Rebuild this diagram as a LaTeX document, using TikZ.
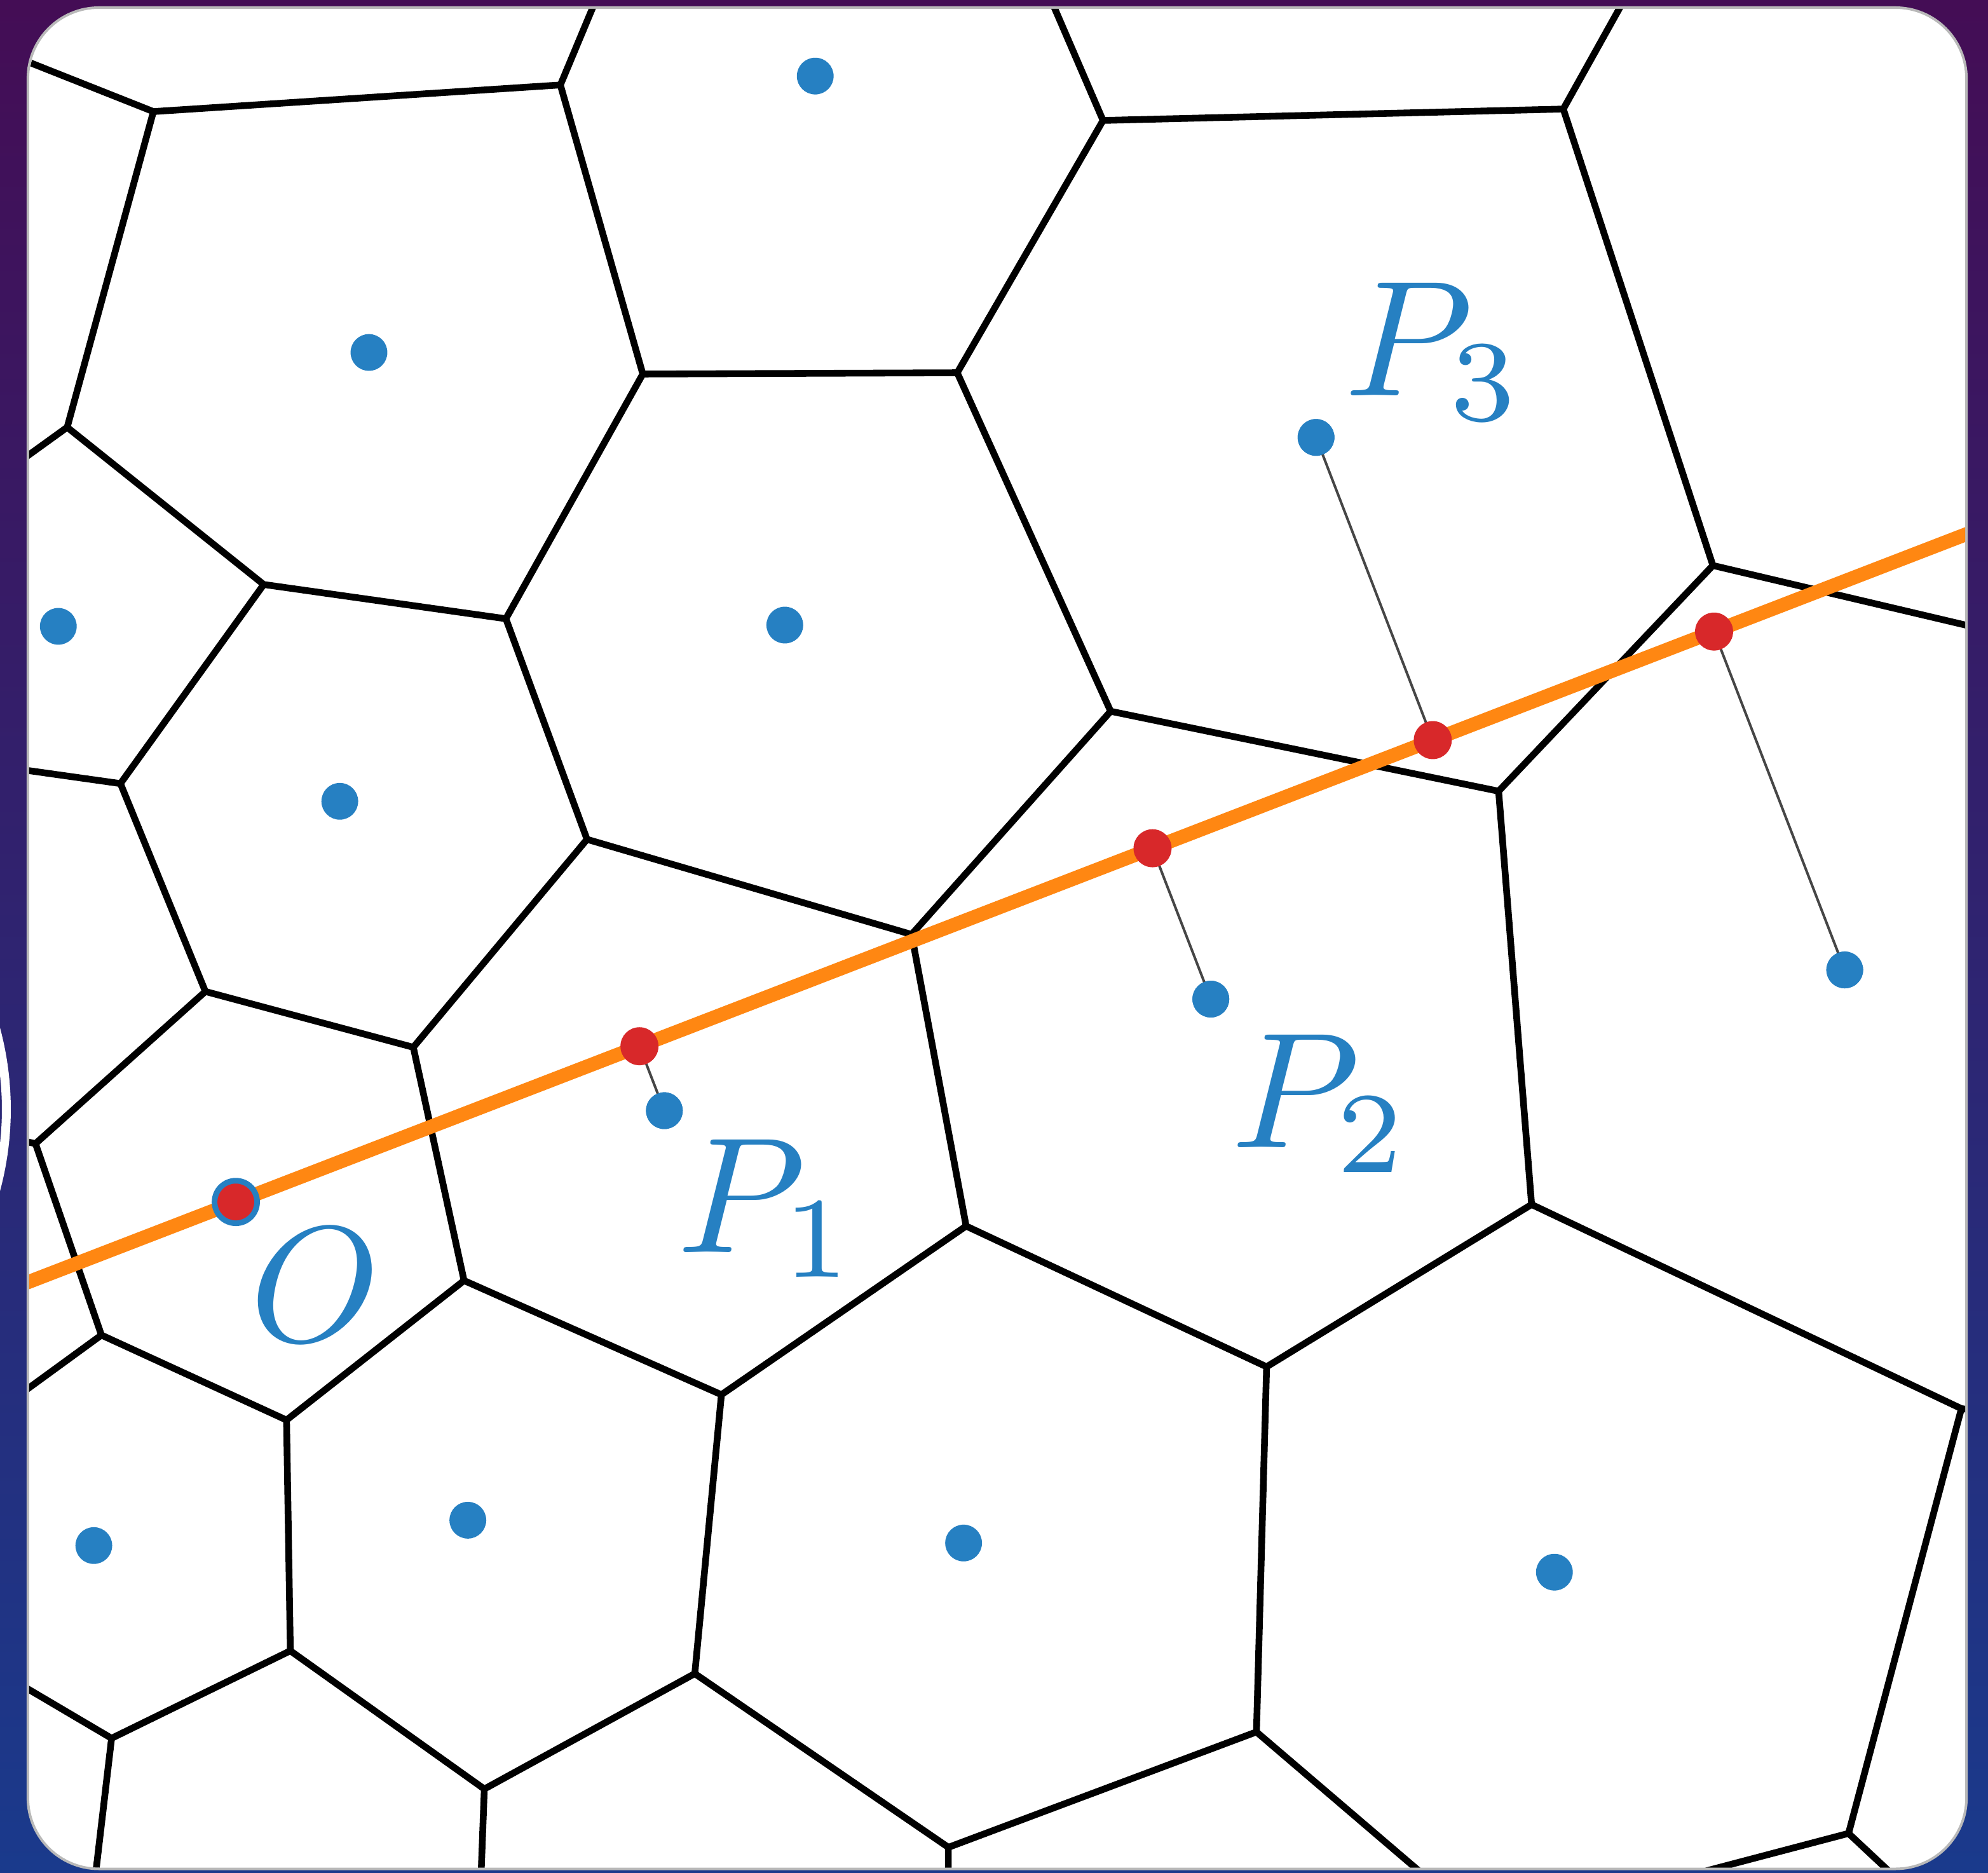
\documentclass[tikz,border=0pt]{standalone}
\usepackage{graphicx}
\usetikzlibrary{calc}
\definecolor{bgtop}{RGB}{68,13,85}
\definecolor{bgbot}{RGB}{26,58,140}
\definecolor{siteblue}{RGB}{38,128,194}
\definecolor{hitred}{RGB}{216,40,42}
\definecolor{rayorange}{RGB}{255,135,18}
\definecolor{linkgray}{RGB}{70,70,70}
\newcommand{\biglab}[1]{\scalebox{13}{$#1$}}
\begin{document}
\begin{tikzpicture}[x=1pt,y=-1pt,
  cell/.style={line width=5.3pt, line cap=round, line join=round},
  ray/.style={rayorange, line width=11pt},
  link/.style={linkgray, line width=2pt},
  site/.style={circle, fill=siteblue, inner sep=0pt, minimum size=29pt},
  bigsite/.style={circle, fill=siteblue, inner sep=0pt, minimum size=38pt},
  hit/.style={circle, fill=hitred, inner sep=0pt, minimum size=30pt},
  lab/.style={text=siteblue, inner sep=0pt, anchor=base west, font=\normalsize}]
\useasboundingbox (0,0) rectangle (1568,1477);
\shade[top color=bgtop, bottom color=bgbot] (0,0) rectangle (1568,1477);
\draw[white, line width=7pt] (-238,875) circle [radius=243pt];
\fill[white, rounded corners=56pt] (22,6) rectangle (1551,1474);
\draw[gray!55, line width=2pt, rounded corners=56pt] (22,6) rectangle (1551,1474);
% Voronoi vertices
\coordinate (A1) at (121,88);
\coordinate (A2) at (442,67);
\coordinate (A3) at (870,95);
\coordinate (A4) at (1233,86);
\coordinate (A5) at (507,295);
\coordinate (A6) at (755,294);
\coordinate (A7) at (53,337);
\coordinate (A8) at (208,461);
\coordinate (A9) at (399,488);
\coordinate (A10) at (95,618);
\coordinate (A11) at (463,662);
\coordinate (A12) at (876,561);
\coordinate (A13) at (719,737);
\coordinate (A14) at (1351,446);
\coordinate (A15) at (1182,624);
\coordinate (A16) at (162,782);
\coordinate (A17) at (326,826);
\coordinate (A18) at (28,902);
\coordinate (A19) at (80,1053);
\coordinate (A20) at (366,1010);
\coordinate (A21) at (226,1120);
\coordinate (A22) at (762,967);
\coordinate (A23) at (569,1100);
\coordinate (A24) at (1208,950);
\coordinate (A25) at (999,1078);
\coordinate (A26) at (229,1302);
\coordinate (A27) at (88,1371);
\coordinate (A28) at (548,1320);
\coordinate (A29) at (382,1411);
\coordinate (A30) at (991,1366);
\coordinate (A31) at (748,1457);
\coordinate (A32) at (1458,1446);
\coordinate (A33) at (1547,1111);
\coordinate (E1) at (10,44);
\coordinate (E2) at (470,0);
\coordinate (E3) at (829,0);
\coordinate (E4) at (1281,0);
\coordinate (E5) at (10,368);
\coordinate (E6) at (10,606);
\coordinate (E7) at (10,898);
\coordinate (E8) at (10,1104);
\coordinate (E9) at (10,1325);
\coordinate (E10) at (74,1490);
\coordinate (E11) at (379,1490);
\coordinate (E12) at (748,1490);
\coordinate (E13) at (1136,1490);
\coordinate (E14) at (1291,1490);
\coordinate (E15) at (1505,1490);
\coordinate (E16) at (1580,1115);
\coordinate (E17) at (1580,500);
\coordinate (L1) at (0,1019.8);
\coordinate (L2) at (1568,414.7);
\begin{scope}
\clip[rounded corners=56pt] (23,7) rectangle (1550,1473);
\draw[cell] (E1) -- (A1) -- (A2) -- (E2);
\draw[cell] (A1) -- (A7) -- (E5);
\draw[cell] (A7) -- (A8) -- (A9) -- (A5) -- (A2);
\draw[cell] (A5) -- (A6) -- (A3) -- (E3);
\draw[cell] (A3) -- (A4) -- (E4);
\draw[cell] (A4) -- (A14) -- (E17);
\draw[cell] (A6) -- (A12) -- (A15) -- (A14);
\draw[cell] (A8) -- (A10) -- (E6);
\draw[cell] (A9) -- (A11) -- (A13) -- (A12);
\draw[cell] (A10) -- (A16) -- (A17) -- (A11);
\draw[cell] (A16) -- (A18) -- (E7);
\draw[cell] (A18) -- (A19) -- (E8);
\draw[cell] (A19) -- (A21) -- (A20) -- (A17);
\draw[cell] (A20) -- (A23) -- (A22) -- (A13);
\draw[cell] (A22) -- (A25) -- (A24) -- (A15);
\draw[cell] (A24) -- (A33) -- (E16);
\draw[cell] (A33) -- (A32) -- (E15);
\draw[cell] (A32) -- (E14);
\draw[cell] (A21) -- (A26) -- (A27) -- (E9);
\draw[cell] (A27) -- (E10);
\draw[cell] (A26) -- (A29) -- (E11);
\draw[cell] (A29) -- (A28) -- (A23);
\draw[cell] (A28) -- (A31) -- (E12);
\draw[cell] (A31) -- (A30) -- (A25);
\draw[cell] (A30) -- (E13);
\draw[ray] (L1) -- (L2);
\end{scope}
% sites
\node[site] (s1) at (643,60) {};
\node[site] (s2) at (291,278) {};
\node[site] (s3) at (46,494) {};
\node[site] (s4) at (619,493) {};
\node[site] (s5) at (268,632) {};
\node[site] (P3) at (1038,345) {};
\node[site] (P2) at (955,788) {};
\node[site] (P1) at (524,876) {};
\node[site] (s9) at (1455,765) {};
\node[site] (s11) at (74,1219) {};
\node[site] (s12) at (369,1199) {};
\node[site] (s13) at (760,1217) {};
\node[site] (s14) at (1226,1240) {};
\node[bigsite] (O) at (186,948) {};
% projections onto the line
\coordinate (q1) at ($(L1)!(P1)!(L2)$);
\coordinate (q2) at ($(L1)!(P2)!(L2)$);
\coordinate (q3) at ($(L1)!(P3)!(L2)$);
\coordinate (q4) at ($(L1)!(s9)!(L2)$);
\draw[link] (P1.center) -- (q1);
\draw[link] (P2.center) -- (q2);
\draw[link] (P3.center) -- (q3);
\draw[link] (s9.center) -- (q4);
\node[site] at (P1) {};
\node[site] at (P2) {};
\node[site] at (P3) {};
\node[site] at (s9) {};
\node[hit] (h1) at (q1) {};
\node[hit] (h2) at (q2) {};
\node[hit] (h3) at (q3) {};
\node[hit] (h4) at (q4) {};
\node[hit, minimum size=29pt] (h0) at (O) {};
% labels
\node[lab] (tO) at (197,1058) {\biglab{O}};
\node[lab] (tP1) at (534,988) {\biglab{P_1}};
\node[lab] (tP2) at (971,905) {\biglab{P_2}};
\node[lab] (tP3) at (1060,312) {\biglab{P_3}};
\end{tikzpicture}
\end{document}
